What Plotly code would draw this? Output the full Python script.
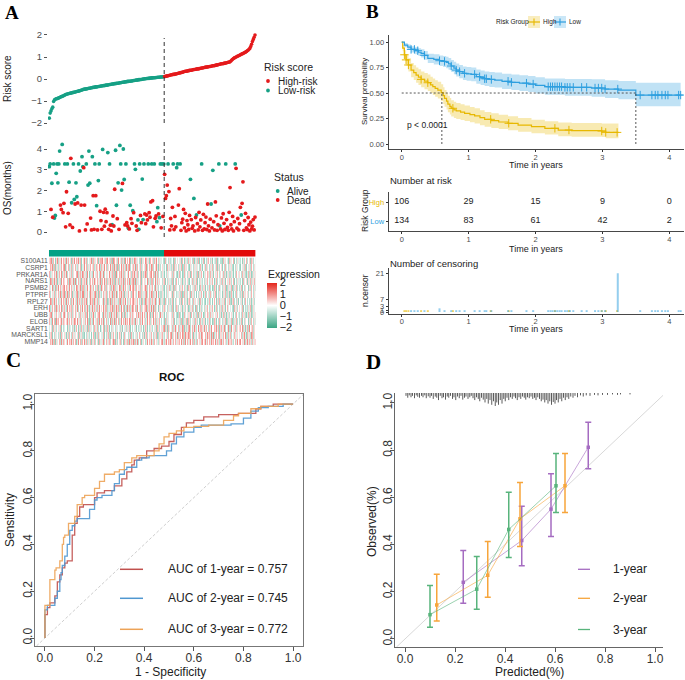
import numpy as np
import plotly.graph_objects as go

W, H = 685, 680
FONT = "Liberation Sans, Arial, sans-serif"
SERIF = "Liberation Serif, Times New Roman, serif"

# ------------------------------------------------------------------ A data
risk_low = [
    -1.78, -1.55, -1.45, -1.35, -1.28, -1.02,
    -0.95, -0.92, -0.90, -0.89, -0.88, -0.86, -0.84, -0.82, -0.80,
    -0.79, -0.77, -0.75, -0.73, -0.71, -0.69,
    -0.68, -0.67, -0.66, -0.65, -0.64, -0.63, -0.62, -0.61, -0.60, -0.59, -0.58, -0.57, -0.56, -0.55, -0.54, -0.52, -0.51, -0.50, -0.48,
    -0.47, -0.46, -0.46, -0.45, -0.44, -0.43, -0.42, -0.42, -0.41, -0.40, -0.39, -0.38, -0.38, -0.37, -0.36, -0.36, -0.35, -0.34, -0.34, -0.33,
    -0.32, -0.32, -0.31, -0.30, -0.30, -0.29, -0.28, -0.28, -0.27, -0.26, -0.25, -0.25, -0.24, -0.23, -0.23, -0.22, -0.21, -0.21, -0.20,
    -0.19, -0.19, -0.18, -0.17, -0.17, -0.16, -0.15, -0.15, -0.14, -0.13, -0.13, -0.12, -0.11, -0.11, -0.10, -0.10, -0.09, -0.09, -0.08,
    -0.07, -0.07, -0.06, -0.05, -0.05, -0.04, -0.03, -0.03, -0.02, -0.02, -0.01, 0.00, 0.00, 0.01, 0.01, 0.02, 0.02, 0.03, 0.03, 0.04,
    0.04, 0.05, 0.05, 0.06, 0.06, 0.06, 0.07, 0.07, 0.08, 0.08, 0.08, 0.09, 0.09, 0.09, 0.10, 0.10]
risk_high = [
    0.11, 0.12, 0.13, 0.14, 0.15, 0.16, 0.17, 0.18, 0.19, 0.20, 0.21, 0.21, 0.22, 0.23, 0.24, 0.25, 0.26, 0.27, 0.28, 0.29, 0.30, 0.31, 0.33,
    0.34, 0.35, 0.35, 0.36, 0.37, 0.38, 0.39, 0.40, 0.40, 0.41, 0.42, 0.43, 0.43, 0.44, 0.45, 0.46, 0.46, 0.47, 0.48,
    0.49, 0.50, 0.50, 0.51, 0.52, 0.53, 0.54, 0.54, 0.55, 0.56, 0.57, 0.57, 0.58, 0.59, 0.60, 0.60, 0.61, 0.62, 0.63,
    0.64, 0.65, 0.66, 0.67, 0.68, 0.69, 0.69, 0.70, 0.71, 0.72, 0.73, 0.74, 0.75, 0.76, 0.77, 0.78,
    0.82, 0.86, 0.90, 0.93, 0.96, 0.98, 1.00, 1.02, 1.04, 1.06, 1.08, 1.10, 1.12, 1.14, 1.16,
    1.18, 1.20, 1.22, 1.25, 1.28, 1.31, 1.35, 1.39, 1.48, 1.58, 1.70, 1.80, 1.90, 2.00]

os_time = [
    3.15, 3.28, 1.09, 2.35, 0.71, 3.28, 0.67, 0.80, 2.83, 3.28,
    2.37, 3.28, 3.90, 1.30, 1.09, 4.22, 0.93, 1.38, 3.28, 0.25,
    1.94, 3.28, 0.90, 2.40, 0.34, 3.55, 1.41, 0.22, 3.28, 1.57,
    1.35, 2.37, 1.70, 1.40, 3.28, 0.05, 2.94, 1.30, 3.63, 3.15,
    3.10, 1.30, 0.10, 3.28, 0.39, 2.26, 3.90, 2.35, 0.67, 0.10,
    3.63, 1.75, 0.13, 3.28, 1.75, 1.27, 0.10, 2.48, 3.28, 1.00,
    0.55, 0.13, 3.98, 0.95, 0.28, 1.10, 0.50, 0.93, 3.83, 0.13,
    3.28, 0.33, 0.05, 0.35, 0.77, 0.29, 2.06, 3.94, 1.29, 0.64,
    2.37, 0.13, 4.17, 3.28, 2.02, 2.34, 4.00, 2.53, 0.34, 3.28,
    0.45, 0.29, 0.18, 0.15, 1.29, 0.64, 0.42, 1.03, 0.93, 3.28,
    3.02, 0.29, 0.08, 0.58, 0.13, 3.28, 0.80, 0.45, 2.55, 0.60,
    3.28, 0.87, 0.40, 0.82, 0.58, 3.28, 0.93, 0.71, 1.45, 3.28,
    1.51, 0.25, 3.28, 0.66, 0.77, 0.50, 1.17, 0.87, 0.69, 3.28,
    0.20, 3.28, 0.75, 3.28,
    2.78, 1.62, 1.75, 2.26, 3.28, 1.95, 0.10, 0.65, 0.30, 1.19,
    3.28, 0.12, 0.75, 0.25, 3.10, 3.28, 1.30, 2.09, 3.28, 0.08,
    0.45, 0.62, 1.09, 0.20, 0.90, 0.05, 0.55, 0.35, 0.12, 0.80,
    2.54, 0.60, 0.18, 0.30, 1.62, 0.05, 0.70, 0.82, 0.40, 0.10,
    0.95, 0.25, 0.58, 3.28, 0.08, 0.85, 0.15, 0.45, 0.72, 0.12,
    1.35, 0.30, 0.05, 0.62, 1.35, 0.20, 2.97, 0.50, 0.10, 1.45,
    0.78, 0.08, 0.35, 3.28, 0.30, 0.15, 0.68, 0.05, 0.88, 0.42,
    0.12, 3.28, 0.60, 0.22, 0.08, 0.95, 2.14, 0.35, 0.15, 0.75,
    0.05, 0.50, 3.28, 3.07, 0.18, 0.65, 0.10, 0.40, 1.19, 0.82,
    1.38, 2.42, 0.08, 0.55, 0.90, 0.20, 0.12, 0.70, 0.35, 0.05,
    0.48, 0.15, 0.28, 0.60, 0.10, 0.72]
os_status = [  # 1 = dead, 0 = alive
    0, 0, 1, 0, 1, 0, 0, 0, 0, 0,
    0, 0, 0, 1, 1, 0, 1, 1, 0, 1,
    1, 0, 1, 0, 1, 1, 0, 1, 0, 0,
    1, 0, 0, 1, 0, 1, 0, 1, 0, 0,
    1, 1, 1, 0, 1, 0, 0, 0, 1, 1,
    0, 1, 1, 0, 1, 0, 1, 0, 0, 1,
    1, 1, 0, 1, 1, 1, 1, 1, 0, 1,
    0, 1, 1, 0, 1, 1, 1, 0, 0, 1,
    0, 1, 0, 0, 0, 1, 0, 0, 1, 0,
    1, 1, 0, 1, 0, 1, 1, 0, 1, 0,
    0, 1, 1, 0, 0, 0, 1, 1, 0, 0,
    0, 1, 1, 1, 1, 0, 1, 1, 1, 0,
    1, 1, 0, 1, 1, 0, 0, 1, 0, 0,
    1, 0, 1, 0,
    1, 1, 1, 1, 0, 1, 1, 1, 1, 1,
    0, 1, 1, 1, 0, 0, 1, 1, 0, 1,
    1, 1, 1, 1, 1, 1, 1, 1, 1, 1,
    0, 1, 1, 1, 0, 1, 1, 0, 1, 1,
    1, 1, 1, 0, 1, 1, 1, 1, 1, 1,
    1, 1, 1, 1, 0, 1, 0, 1, 1, 1,
    1, 1, 1, 0, 0, 1, 1, 1, 1, 1,
    1, 0, 1, 1, 1, 1, 1, 1, 1, 1,
    1, 1, 0, 1, 1, 1, 1, 1, 1, 0,
    1, 1, 1, 1, 1, 1, 1, 1, 1, 1,
    1, 1, 1, 1, 1, 1]

genes = ["S100A11", "CSRP1", "PRKAR1A", "NARS1", "PSMB2", "PTPRF", "RPL27",
         "ERH", "UBB", "ELOB", "SART1", "MARCKSL1", "MMP14"]
# expression levels, one digit per sample, centred on 4 (= 0), step 0.35
expr_step = 0.35
expr_codes = [
    "5637264157 6253746152 7364251637 4625736145 5736246357 2657346156 "
    "6374526734 5261736452 7453625174 3647152637 6534726153 4726351647 "
    "5263746253 3425163425 2534162435 4351624153 2613542613 3526142536 "
    "1425364251 4352613425 2163542316 5342614253 3624152436 2451635243",
    "4635726153 7253646371 5462736254 6372546135 3746257364 5627365472 "
    "6153746265 4736257361 6254736527 5367245163 7264536254 3657246375 "
    "6245736152 4536241635 3425163524 2536142635 4261534253 1534263514 "
    "3625142536 2453615243 5142636425 3526142534 2614352641 4352614253",
    "6273546372 5364725163 7245636254 4637256374 6352746153 2746356427 "
    "5637245364 7356246173 4625736254 6374526357 3562746152 5736245674 "
    "4627365243 2536142534 4152634251 3624152634 2535164253 4261536241 "
    "3546152635 1425364253 4362514352 2536142643 5142635241 3625142536",
    "3746257361 6352746254 4627365372 7254636153 5637245264 6372546357 "
    "2564736275 5736246153 6245637264 4637256372 7253646154 5364725263 "
    "6247365354 4253614253 3526142634 2435163524 5261436253 3614253624 "
    "2536142536 4153624351 2635142536 5243614253 3524163425 1536245362",
    "5364725163 2746356274 6537246352 4726357264 6253746375 3647256152 "
    "7354626374 5263746253 4736257364 6352746175 2645736254 5736246357 "
    "6427356243 3526142536 2435162534 4253614253 1635243526 3524163425 "
    "5142536241 2635142635 4253614253 3614253624 2536142534 4152634251",
    "6274536254 4637256372 5726346153 3647256374 7253646275 5364725163 "
    "2746356254 6357246372 4625736153 7364526374 5247366253 3657246375 "
    "6253746152 2536142534 4251634253 3526142635 2435163524 5142536241 "
    "3624152634 2536142536 4153624251 2635142634 3425163524 5243614253",
    "4736257364 6253746152 7364526374 5247365263 3657246375 6274536254 "
    "4637256172 5726346353 2647256374 7253646275 5364725163 2746356254 "
    "6357246372 3524163425 2536142534 4251634253 1526342635 3435163524 "
    "2142536241 4624152634 3536142536 2153624251 4635142634 2425163524",
    "7253646275 5364725163 2746356254 6357246372 4625736153 7364526374 "
    "5247366253 3657246375 6253746152 4736257364 6274536254 5637256372 "
    "3726346153 4251634253 3526142635 2435163524 5142536241 3624152634 "
    "2536142536 4153624251 2635142634 3425163524 5243614253 2536142534",
    "5637245364 7356246173 4625736254 6374526357 3562746152 5736245674 "
    "4627365243 6273546372 5364725163 7245636254 4637256374 6352746153 "
    "2746356427 3536142534 4152634251 2624152634 3535164253 4261536241 "
    "2546152635 3425364253 1362514352 4536142643 2142635241 3625142536",
    "6352746175 2645736254 5736246357 6427356243 5364725163 2746356274 "
    "6537246352 4726357264 6253746375 3647256152 7354626374 5263746253 "
    "4736257364 2435162534 4253614253 3526142536 1635243526 3524163425 "
    "5142536241 2635142635 4253614253 3614253624 2536142534 4152634251",
    "3425163524 2536142534 4152634251 3624152634 2535164253 4261536241 "
    "3546152635 1425364253 4362514352 2536142643 5142635241 3625142536 "
    "2435163524 5364725163 4736257364 6253746152 3657246375 5247366253 "
    "7364526374 4625736153 6357246372 2746356254 5364725163 6274536254",
    "2536142534 4251634253 1526342635 3435163524 2142536241 4624152634 "
    "3536142536 2153624251 4635142634 2425163524 3524163425 1536245362 "
    "4253614253 5637245264 6372546357 2564736275 5736246153 6245637264 "
    "4637256372 7253646154 5364725263 6247365354 3746257361 6352746254",
    "4635726153 5462736254 3746257364 6153746265 4736257361 5367245163 "
    "3657246375 6245736152 4536241635 5627365472 6372546135 4253746371 "
    "5264536254 6736257465 7253646375 5647356274 6375746263 7264536574 "
    "5736246375 6457365264 7364526375 5637246374 6274537265 7365246357",
]

# ------------------------------------------------------------------ B data
high_t = [0, 0.015, 0.04, 0.065, 0.1, 0.14, 0.18, 0.215, 0.25, 0.29,
          0.34, 0.39, 0.43, 0.465, 0.5, 0.54, 0.59, 0.62, 0.64, 0.67,
          0.69, 0.72, 0.74, 0.78, 0.815, 0.88, 0.94, 1.02, 1.09, 1.17,
          1.24, 1.34, 1.45, 1.59, 1.74, 1.94, 2.14, 2.34, 2.54, 2.99,
          3.05, 3.24]
high_s = [1.0, 0.94, 0.875, 0.825, 0.775, 0.725, 0.70, 0.676, 0.655, 0.634,
          0.617, 0.601, 0.58, 0.562, 0.545, 0.529, 0.503, 0.475, 0.448, 0.42,
          0.392, 0.37, 0.35, 0.335, 0.324, 0.312, 0.301, 0.288, 0.275, 0.258,
          0.242, 0.229, 0.216, 0.203, 0.186, 0.17, 0.154, 0.137, 0.131, 0.127,
          0.114, 0.114]
high_lo = [1.0, 0.91, 0.83, 0.77, 0.71, 0.655, 0.627, 0.601, 0.578, 0.556,
           0.538, 0.521, 0.5, 0.481, 0.464, 0.447, 0.421, 0.393, 0.366, 0.338,
           0.311, 0.29, 0.27, 0.256, 0.246, 0.235, 0.225, 0.213, 0.2, 0.185,
           0.17, 0.158, 0.146, 0.134, 0.119, 0.105, 0.092, 0.077, 0.072, 0.068,
           0.057, 0.057]
high_hi = [1.0, 0.97, 0.92, 0.88, 0.84, 0.795, 0.773, 0.751, 0.732, 0.712,
           0.696, 0.681, 0.66, 0.643, 0.626, 0.611, 0.585, 0.557, 0.53, 0.502,
           0.473, 0.45, 0.43, 0.414, 0.402, 0.39, 0.378, 0.364, 0.35, 0.332,
           0.315, 0.301, 0.287, 0.273, 0.255, 0.238, 0.224, 0.212, 0.205, 0.2,
           0.2, 0.2]
low_t = [0, 0.04, 0.09, 0.14, 0.2, 0.25, 0.29, 0.34, 0.39, 0.48,
         0.565, 0.62, 0.665, 0.7, 0.74, 0.78, 0.815, 0.86, 0.915, 0.97,
         1.04, 1.115, 1.18, 1.24, 1.31, 1.39, 1.5, 1.64, 1.76, 1.89,
         2.0, 2.14, 2.44, 2.84, 3.04, 3.24, 3.5, 4.17]
low_s = [1.0, 0.97, 0.95, 0.928, 0.915, 0.90, 0.889, 0.87, 0.84, 0.83,
         0.817, 0.81, 0.80, 0.785, 0.765, 0.745, 0.725, 0.71, 0.693, 0.688,
         0.683, 0.66, 0.65, 0.64, 0.633, 0.627, 0.615, 0.605, 0.597, 0.588,
         0.575, 0.562, 0.556, 0.549, 0.539, 0.529, 0.48, 0.48]
low_lo = [1.0, 0.95, 0.925, 0.898, 0.88, 0.862, 0.849, 0.827, 0.794, 0.78,
          0.765, 0.756, 0.744, 0.727, 0.705, 0.683, 0.661, 0.645, 0.627, 0.621,
          0.615, 0.59, 0.579, 0.568, 0.56, 0.553, 0.54, 0.529, 0.52, 0.51,
          0.496, 0.482, 0.474, 0.464, 0.452, 0.439, 0.37, 0.36]
low_hi = [1.0, 0.99, 0.975, 0.958, 0.95, 0.938, 0.929, 0.913, 0.886, 0.88,
          0.869, 0.864, 0.856, 0.843, 0.825, 0.807, 0.789, 0.775, 0.759, 0.755,
          0.751, 0.73, 0.721, 0.712, 0.706, 0.701, 0.69, 0.681, 0.674, 0.666,
          0.654, 0.642, 0.638, 0.634, 0.626, 0.619, 0.60, 0.60]
median_high, median_low = 0.6, 3.5
p_text = "p < 0.0001"

cens_low_t = [0.14, 0.19, 0.24, 0.34, 0.565, 0.64, 0.74, 0.815, 0.865, 0.94,
              1.09, 1.165, 1.24, 1.265, 1.34, 1.59, 1.64, 1.865, 1.965, 2.19,
              2.225, 2.255, 2.29, 2.325, 2.36, 2.39, 2.44, 2.475, 2.515, 2.565,
              2.69, 2.765, 2.89, 2.94, 2.99, 3.04, 3.23, 3.565, 3.74, 3.79,
              3.83, 3.89, 3.94, 3.98, 4.14, 4.17]
cens_low_n = [1, 1, 1, 1, 2, 1, 1, 1, 1, 1,
              1, 1, 1, 1, 1, 1, 1, 1, 1, 1,
              1, 1, 1, 1, 1, 1, 1, 1, 1, 1,
              1, 1, 1, 1, 1, 1, 21, 1, 1, 1,
              1, 1, 1, 1, 1, 1]
cens_high_t = [0.04, 0.065, 0.1, 0.29, 0.39, 0.765, 1.33, 1.6, 2.29, 2.5, 2.99, 3.05, 3.22]
cens_high_n = [1, 1, 1, 1, 1, 1, 1, 1, 1, 1, 1, 1, 1]

table_times = [0, 1, 2, 3, 4]
table_high = [106, 29, 15, 9, 0]
table_low = [134, 83, 61, 42, 2]

# ------------------------------------------------------------------ C data
roc1_fpr = [0, 0, 0.01, 0.02, 0.04, 0.05, 0.06, 0.07, 0.08, 0.09,
            0.11, 0.12, 0.13, 0.14, 0.155, 0.2, 0.21, 0.24, 0.28, 0.31,
            0.33, 0.35, 0.36, 0.38, 0.41, 0.44, 0.47, 0.5, 0.52, 0.55,
            0.57, 0.6, 0.64, 0.7, 0.78, 0.85, 0.87, 0.92, 0.97, 1.0]
roc1_tpr = [0, 0.10, 0.10, 0.13, 0.15, 0.18, 0.24, 0.27, 0.30, 0.32,
            0.33, 0.44, 0.49, 0.52, 0.56, 0.57, 0.60, 0.62, 0.63, 0.65,
            0.68, 0.71, 0.74, 0.76, 0.77, 0.80, 0.81, 0.82, 0.84, 0.87,
            0.90, 0.92, 0.93, 0.945, 0.955, 0.96, 0.98, 0.99, 1.0, 1.0]
roc2_fpr = [0, 0, 0.01, 0.02, 0.04, 0.05, 0.06, 0.065, 0.07, 0.08,
            0.09, 0.1, 0.11, 0.12, 0.13, 0.18, 0.2, 0.21, 0.23, 0.27,
            0.28, 0.3, 0.32, 0.33, 0.37, 0.39, 0.42, 0.49, 0.51, 0.53,
            0.56, 0.6, 0.63, 0.75, 0.8, 0.83, 0.86, 0.9, 0.96, 1.0]
roc2_tpr = [0, 0.08, 0.12, 0.14, 0.14, 0.17, 0.20, 0.25, 0.28, 0.31,
            0.35, 0.40, 0.46, 0.48, 0.50, 0.51, 0.55, 0.59, 0.60, 0.61,
            0.63, 0.66, 0.70, 0.72, 0.73, 0.76, 0.77, 0.78, 0.80, 0.83,
            0.86, 0.88, 0.90, 0.91, 0.915, 0.94, 0.97, 0.985, 0.99, 1.0]
roc3_fpr = [0, 0, 0.02, 0.025, 0.04, 0.045, 0.06, 0.07, 0.075, 0.08,
            0.095, 0.1, 0.12, 0.13, 0.15, 0.16, 0.2, 0.22, 0.24, 0.25,
            0.28, 0.3, 0.32, 0.35, 0.37, 0.44, 0.46, 0.48, 0.5, 0.53,
            0.56, 0.6, 0.66, 0.72, 0.76, 0.78, 0.83, 0.87, 0.94, 1.0]
roc3_tpr = [0, 0.14, 0.14, 0.25, 0.25, 0.29, 0.30, 0.33, 0.40, 0.43,
            0.44, 0.49, 0.49, 0.52, 0.57, 0.60, 0.61, 0.64, 0.67, 0.70,
            0.70, 0.71, 0.72, 0.75, 0.77, 0.78, 0.80, 0.83, 0.86, 0.875,
            0.885, 0.90, 0.905, 0.91, 0.93, 0.95, 0.96, 0.98, 0.99, 1.0]
roc_labels = ["1-year", "2-year", "3-year"]
roc_auc = [0.757, 0.745, 0.772]

# ------------------------------------------------------------------ D data
cal1_x = [0.233, 0.467, 0.584, 0.733]
cal1_y = [0.240, 0.417, 0.550, 0.812]
cal1_lo = [0.151, 0.310, 0.434, 0.721]
cal1_hi = [0.375, 0.562, 0.700, 0.918]
cal2_x = [0.127, 0.331, 0.460, 0.640]
cal2_y = [0.144, 0.270, 0.509, 0.649]
cal2_lo = [0.076, 0.177, 0.392, 0.536]
cal2_hi = [0.274, 0.413, 0.663, 0.786]
cal3_x = [0.100, 0.287, 0.415, 0.604]
cal3_y = [0.103, 0.211, 0.464, 0.649]
cal3_lo = [0.050, 0.126, 0.345, 0.536]
cal3_hi = [0.226, 0.349, 0.622, 0.786]
rug_x = [0.004, 0.011, 0.017, 0.024, 0.030, 0.038, 0.045, 0.051, 0.058, 0.066,
         0.072, 0.079, 0.085, 0.093, 0.100, 0.106, 0.113, 0.121, 0.127, 0.134,
         0.141, 0.148, 0.154, 0.162, 0.169, 0.175, 0.182, 0.190, 0.196, 0.203,
         0.210, 0.217, 0.224, 0.231, 0.238, 0.244, 0.252, 0.259, 0.265, 0.272,
         0.279, 0.286, 0.293, 0.299, 0.306, 0.313, 0.320, 0.327, 0.333, 0.340,
         0.347, 0.354, 0.361, 0.367, 0.374, 0.381, 0.388, 0.395, 0.401, 0.408,
         0.415, 0.422, 0.429, 0.436, 0.442, 0.449, 0.456, 0.463, 0.470, 0.477,
         0.483, 0.490, 0.497, 0.504, 0.511, 0.518, 0.524, 0.531, 0.538, 0.545,
         0.552, 0.559, 0.565, 0.572, 0.579, 0.586, 0.593, 0.600, 0.606, 0.613,
         0.620, 0.627, 0.634, 0.641, 0.648, 0.655, 0.663, 0.672, 0.680, 0.690,
         0.702, 0.713, 0.725, 0.740, 0.758, 0.772, 0.790, 0.810, 0.830, 0.850,
         0.862, 0.900]
rug_len = [0.012, 0.020, 0.010, 0.018, 0.012, 0.022, 0.010, 0.016, 0.020, 0.012,
           0.018, 0.010, 0.022, 0.014, 0.020, 0.012, 0.025, 0.015, 0.020, 0.030,
           0.012, 0.022, 0.018, 0.028, 0.015, 0.020, 0.012, 0.025, 0.018, 0.030,
           0.015, 0.022, 0.012, 0.028, 0.020, 0.015, 0.025, 0.018, 0.012, 0.022,
           0.030, 0.018, 0.025, 0.035, 0.020, 0.028, 0.040, 0.025, 0.045, 0.030,
           0.050, 0.035, 0.055, 0.040, 0.050, 0.030, 0.045, 0.025, 0.035, 0.020,
           0.030, 0.018, 0.025, 0.015, 0.022, 0.030, 0.018, 0.025, 0.015, 0.020,
           0.028, 0.018, 0.022, 0.015, 0.025, 0.020, 0.030, 0.018, 0.025, 0.035,
           0.028, 0.040, 0.030, 0.045, 0.035, 0.050, 0.038, 0.045, 0.030, 0.040,
           0.025, 0.035, 0.020, 0.030, 0.018, 0.025, 0.015, 0.020, 0.012, 0.018,
           0.010, 0.015, 0.010, 0.012, 0.008, 0.010, 0.008, 0.008, 0.006, 0.008,
           0.006, 0.006]
cal_labels = ["1-year", "2-year", "3-year"]

# ------------------------------------------------------------------ styling
TEAL, RED = "#16A085", "#E41A1C"
BAR_TEAL, BAR_RED = "#02A185", "#E20A0A"
ORANGE_KM, BLUE_KM = "#E7B800", "#2E9FDF"
ROC_COL = ["#C0504D", "#4F97D0", "#EDA357"]
CAL_COL = ["#A56CC1", "#F7A53B", "#58B47C"]


def xd(a, b):
    return [a / W, b / W]


def yd(top, bottom):
    return [1 - bottom / H, 1 - top / H]


def PX(x):
    return x / W


def PY(y):
    return 1 - y / H


annotations, shapes = [], []


def text(x, y, s, size, color="#222", xanchor="center", angle=0, family=FONT):
    annotations.append(dict(x=PX(x), y=PY(y), xref="paper", yref="paper", text=s,
                            showarrow=False, xanchor=xanchor, yanchor="middle",
                            textangle=angle, borderpad=0,
                            font=dict(size=size, color=color, family=family)))


def hline_px(x0, x1, y, color, width=1.3):
    shapes.append(dict(type="line", xref="paper", yref="paper", x0=PX(x0), x1=PX(x1),
                       y0=PY(y), y1=PY(y), line=dict(color=color, width=width)))


def dot_px(cx, cy, r, color):
    shapes.append(dict(type="circle", xref="paper", yref="paper", x0=PX(cx - r), x1=PX(cx + r),
                       y0=PY(cy + r), y1=PY(cy - r), fillcolor=color, line=dict(width=0)))


fig = go.Figure()

# ================================================================== Panel A
n_low, n_high = len(risk_low), len(risk_high)
n_all = n_low + n_high
idx_low = list(range(1, n_low + 1))
idx_high = list(range(n_low + 1, n_all + 1))
fig.add_trace(go.Scatter(x=idx_low, y=risk_low, mode="markers",
                         marker=dict(color=TEAL, size=3.6), xaxis="x", yaxis="y"))
fig.add_trace(go.Scatter(x=idx_high, y=risk_high, mode="markers",
                         marker=dict(color=RED, size=3.6), xaxis="x", yaxis="y"))

idx_os = list(range(1, len(os_time) + 1))
alive_x = [i for i, s in zip(idx_os, os_status) if s == 0]
alive_y = [t for t, s in zip(os_time, os_status) if s == 0]
dead_x = [i for i, s in zip(idx_os, os_status) if s == 1]
dead_y = [t for t, s in zip(os_time, os_status) if s == 1]
fig.add_trace(go.Scatter(x=alive_x, y=alive_y, mode="markers",
                         marker=dict(color=TEAL, size=3.8), xaxis="x2", yaxis="y2"))
fig.add_trace(go.Scatter(x=dead_x, y=dead_y, mode="markers",
                         marker=dict(color=RED, size=3.8), xaxis="x2", yaxis="y2"))

# annotation bar
fig.add_trace(go.Heatmap(z=[[0] * n_low + [1] * n_high], x=list(range(1, n_all + 1)), y=[0],
                         colorscale=[[0, BAR_TEAL], [0.5, BAR_TEAL], [0.5, BAR_RED], [1, BAR_RED]],
                         zmin=0, zmax=1, showscale=False, xaxis="x3", yaxis="y3"))
# expression heatmap
expr = []
for code in expr_codes:
    vals = [(int(c) - 4) * expr_step for c in code.replace(" ", "")]
    vals = (vals + [0.0] * n_all)[:n_all]
    expr.append(vals)
fig.add_trace(go.Heatmap(
    z=expr, x=list(range(1, n_all + 1)), y=list(range(len(genes))),
    colorscale=[[0, "#3AA583"], [0.5, "#FFFFFF"], [1, "#E4261C"]], zmin=-2, zmax=2,
    xaxis="x4", yaxis="y4",
    colorbar=dict(x=PX(267), xanchor="left", y=PY(305), yanchor="middle",
                  len=45 / H, lenmode="fraction", thickness=10, thicknessmode="pixels",
                  outlinewidth=0, tickvals=[-2, -1, 0, 1, 2], ticks="",
                  tickfont=dict(size=11, color="#222", family=FONT), xpad=0, ypad=0)))

# dashed cut lines
shapes.append(dict(type="line", xref="x", yref="paper", x0=n_low + 0.5, x1=n_low + 0.5,
                   y0=PY(123), y1=PY(38), line=dict(color="#333", width=1, dash="4px,3px")))
shapes.append(dict(type="line", xref="x2", yref="paper", x0=n_low + 0.5, x1=n_low + 0.5,
                   y0=PY(237), y1=PY(140), line=dict(color="#333", width=1, dash="4px,3px")))

text(4, 12, "<b>A</b>", 19, "#000", "left", family=SERIF)
text(7, 79, "Risk score", 10, "#222", angle=-90)
text(7, 188, "OS(months)", 10, "#222", angle=-90)
text(263, 67.5, "Risk score", 10.5, "#222", "left")
dot_px(268, 81, 1.9, RED)
dot_px(268, 90.5, 1.9, TEAL)
text(277, 81, "High-risk", 10, "#222", "left")
text(277, 90.5, "Low-risk", 10, "#222", "left")
text(273, 177, "Status", 10.5, "#222", "left")
dot_px(277.7, 191, 1.9, TEAL)
dot_px(277.7, 200, 1.9, RED)
text(286, 191, "Alive", 10, "#222", "left")
text(286, 200, "Dead", 10, "#222", "left")
text(267, 274, "Expression", 10.5, "#222", "left")

# ================================================================== Panel B
def step_at(ts, ss, t):
    i = int(np.searchsorted(np.array(ts), t, side="right")) - 1
    return ss[max(i, 0)]


for ts, lo, hi, col in [(high_t, high_lo, high_hi, "rgba(231,184,0,0.30)"),
                        (low_t, low_lo, low_hi, "rgba(46,159,223,0.30)")]:
    fig.add_trace(go.Scatter(x=ts, y=hi, mode="lines", line=dict(width=0, shape="hv"),
                             xaxis="x5", yaxis="y5"))
    fig.add_trace(go.Scatter(x=ts, y=lo, mode="lines", line=dict(width=0, shape="hv"),
                             fill="tonexty", fillcolor=col, xaxis="x5", yaxis="y5"))

for ts, ss, col in [(high_t, high_s, ORANGE_KM), (low_t, low_s, BLUE_KM)]:
    fig.add_trace(go.Scatter(x=ts, y=ss, mode="lines", line=dict(color=col, width=1.2, shape="hv"),
                             xaxis="x5", yaxis="y5"))
for ct, ts, ss, col in [(cens_high_t, high_t, high_s, ORANGE_KM), (cens_low_t, low_t, low_s, BLUE_KM)]:
    fig.add_trace(go.Scatter(x=ct, y=[step_at(ts, ss, t) for t in ct], mode="markers",
                             marker=dict(symbol="cross-thin", size=6, line=dict(color=col, width=1)),
                             xaxis="x5", yaxis="y5"))

dot_line = dict(color="#444", width=0.9, dash="2px,2px")
shapes.append(dict(type="line", xref="x5", yref="y5", x0=0, x1=median_low, y0=0.5, y1=0.5, line=dot_line))
shapes.append(dict(type="line", xref="x5", yref="y5", x0=median_high, x1=median_high, y0=0, y1=0.5, line=dot_line))
shapes.append(dict(type="line", xref="x5", yref="y5", x0=median_low, x1=median_low, y0=0, y1=0.5, line=dot_line))
annotations.append(dict(x=0.39, y=0.19, xref="x5", yref="y5", text=p_text, showarrow=False,
                        font=dict(size=8.5, color="#222", family=FONT)))

# risk table
fig.add_trace(go.Scatter(x=table_times + table_times, y=[2] * len(table_times) + [1] * len(table_times),
                         text=[str(v) for v in table_high + table_low], mode="text",
                         textfont=dict(size=9, color="#222", family=FONT), xaxis="x6", yaxis="y6"))
# censoring
fig.add_trace(go.Bar(x=cens_high_t, y=cens_high_n, width=0.03, marker=dict(color=ORANGE_KM, line=dict(width=0)),
                     opacity=0.6, xaxis="x7", yaxis="y7"))
fig.add_trace(go.Bar(x=cens_low_t, y=cens_low_n, width=0.03, marker=dict(color=BLUE_KM, line=dict(width=0)),
                     opacity=0.5, xaxis="x7", yaxis="y7"))

text(365, 11, "<b>B</b>", 19, "#000", "left", family=SERIF)
text(495, 22, "Risk Group", 6.5, "#222", "left")
for x0, col, fill, lab in [(528, ORANGE_KM, "rgba(231,184,0,0.25)", "High"),
                           (554, BLUE_KM, "rgba(46,159,223,0.25)", "Low")]:
    shapes.append(dict(type="rect", xref="paper", yref="paper", x0=PX(x0), x1=PX(x0 + 12),
                       y0=PY(28), y1=PY(16), fillcolor=fill, line=dict(width=0)))
    hline_px(x0, x0 + 12, 22, col, 1.2)
    shapes.append(dict(type="line", xref="paper", yref="paper", x0=PX(x0 + 6), x1=PX(x0 + 6),
                       y0=PY(25.5), y1=PY(18.5), line=dict(color=col, width=1.1)))
    text(x0 + 14, 22, lab, 6.5, "#222", "left")
text(365, 92, "Survival probability", 8, "#222", angle=-90)
text(536, 164.5, "Time in years", 9, "#222")
text(389, 181, "Number at risk", 9.5, "#222", "left")
text(365, 211, "Risk Group", 8.5, "#222", angle=-90)
text(536, 248.5, "Time in years", 9, "#222")
text(389, 263, "Number of censoring", 9.5, "#222", "left")
text(365, 291, "n.censor", 8.5, "#222", angle=-90)
text(536, 329, "Time in years", 9, "#222")

# ================================================================== Panel C
for fpr, tpr, col in [(roc1_fpr, roc1_tpr, ROC_COL[0]), (roc2_fpr, roc2_tpr, ROC_COL[1]),
                      (roc3_fpr, roc3_tpr, ROC_COL[2])]:
    fig.add_trace(go.Scatter(x=fpr, y=tpr, mode="lines", line=dict(color=col, width=1.3, shape="vh"),
                             opacity=0.9, xaxis="x8", yaxis="y8"))
shapes.append(dict(type="line", xref="x8", yref="y8", x0=-0.034, y0=-0.034, x1=1.04, y1=1.04,
                   line=dict(color="#C8C8C8", width=0.9, dash="3px,2px"), layer="below"))
text(5, 360, "<b>C</b>", 21, "#000", "left", family=SERIF)
text(172, 377, "<b>ROC</b>", 11.5, "#111")
text(10, 520, "Sensitivity", 12, "#222", angle=-90)
text(170, 672, "1 - Specificity", 12, "#222")
for k, ly in enumerate([569.3, 598.3, 629.3]):
    hline_px(120, 143, ly, ROC_COL[k], 1.5)
    text(167, ly, f"AUC of {roc_labels[k]} = {roc_auc[k]:.3f}", 12, "#222", "left")

# ================================================================== Panel D
D_XR, D_YR = [-0.04, 1.032], [-0.034, 1.042]
rug_top = D_YR[1]
rx, ry = [], []
for x, l in zip(rug_x, rug_len):
    rx += [x, x, None]
    ry += [rug_top, rug_top - l, None]
fig.add_trace(go.Scatter(x=rx, y=ry, mode="lines", line=dict(color="#333", width=0.8),
                         xaxis="x9", yaxis="y9"))
shapes.append(dict(type="line", xref="x9", yref="y9", x0=-0.034, y0=-0.034, x1=1.032, y1=1.032,
                   line=dict(color="#D4D4D4", width=0.9), layer="below"))
for xs, ys, lo, hi, col in [(cal1_x, cal1_y, cal1_lo, cal1_hi, CAL_COL[0]),
                            (cal2_x, cal2_y, cal2_lo, cal2_hi, CAL_COL[1]),
                            (cal3_x, cal3_y, cal3_lo, cal3_hi, CAL_COL[2])]:
    fig.add_trace(go.Scatter(x=xs, y=ys, mode="lines", line=dict(color=col, width=1),
                             opacity=0.6, xaxis="x9", yaxis="y9"))
    fig.add_trace(go.Scatter(
        x=xs, y=ys, mode="markers", marker=dict(symbol="square", size=3.5, color=col),
        error_y=dict(type="data", symmetric=False,
                     array=[h - y for h, y in zip(hi, ys)],
                     arrayminus=[y - l for l, y in zip(lo, ys)],
                     color=col, thickness=1.5, width=3),
        xaxis="x9", yaxis="y9"))
text(365, 362, "<b>D</b>", 21, "#000", "left", family=SERIF)
text(372, 522, "Observed(%)", 12, "#222", angle=-90)
text(529.5, 672, "Predicted(%)", 12, "#222")
for k, ly in enumerate([569.3, 598.3, 629.5]):
    hline_px(578, 590, ly, CAL_COL[k], 1.3)
    text(612, ly, cal_labels[k], 12, "#222", "left")

# ================================================================== axes
def tick_axis(**kw):
    base = dict(showgrid=False, zeroline=False, ticks="outside")
    base.update(kw)
    return base


A_XR = [-0.51, 242.32]
KM_XR = [-0.19, 4.22]
km_x = dict(range=KM_XR, tickvals=[0, 1, 2, 3, 4], ticklen=2.5, tickcolor="#333",
            tickfont=dict(size=7.5, color="#4d4d4d"), showline=True, linecolor="#333",
            linewidth=0.9, domain=xd(389, 684))
km_y = dict(ticklen=2.5, tickcolor="#333", tickfont=dict(size=7.5, color="#4d4d4d"),
            showline=True, linecolor="#333", linewidth=0.9)
fr = [0, 0.2, 0.4, 0.6, 0.8, 1.0]
fr_t = ["0.0", "0.2", "0.4", "0.6", "0.8", "1.0"]

axes = dict(
    xaxis=dict(domain=xd(48, 257), range=A_XR, visible=False, anchor="y"),
    yaxis=tick_axis(domain=yd(30, 128), range=[-2.227, 2.227], anchor="x", tickvals=[-2, -1, 0, 1, 2],
                    ticklen=3, tickcolor="#555", tickfont=dict(size=9.5, color="#4d4d4d"), showline=False),
    xaxis2=dict(domain=xd(48, 257), range=A_XR, visible=False, anchor="y2"),
    yaxis2=tick_axis(domain=yd(138, 238), range=[-0.289, 4.53], anchor="x2", tickvals=[0, 1, 2, 3, 4],
                     ticklen=3, tickcolor="#555", tickfont=dict(size=9.5, color="#4d4d4d"), showline=False),
    xaxis3=dict(domain=xd(48.9, 255.4), range=[0.5, n_all + 0.5], visible=False, anchor="y3"),
    yaxis3=dict(domain=yd(250, 256.5), range=[-0.5, 0.5], visible=False, anchor="x3"),
    xaxis4=dict(domain=xd(48.9, 255.4), range=[0.5, n_all + 0.5], visible=False, anchor="y4"),
    yaxis4=dict(domain=yd(257.5, 345), range=[len(genes) - 0.5, -0.5], anchor="x4",
                tickvals=list(range(len(genes))), ticktext=genes, ticks="", showgrid=False,
                zeroline=False, showline=False, tickfont=dict(size=6.8, color="#555")),
    xaxis5=tick_axis(anchor="y5", ticklabelstandoff=-1, **km_x),
    yaxis5=tick_axis(domain=yd(35, 149), range=[-0.049, 1.069], anchor="x5",
                     tickvals=[0, 0.25, 0.5, 0.75, 1], ticktext=["0.00", "0.25", "0.50", "0.75", "1.00"], **km_y),
    xaxis6=tick_axis(anchor="y6", ticklabelstandoff=-1, **km_x),
    yaxis6=tick_axis(domain=yd(192, 231), range=[0.474, 2.526], anchor="x6", tickvals=[1, 2],
                     ticktext=[f'<span style="color:{BLUE_KM}">Low</span>',
                               f'<span style="color:{ORANGE_KM}">High</span>'], **km_y),
    xaxis7=tick_axis(anchor="y7", ticklabelstandoff=-2, **km_x),
    yaxis7=tick_axis(domain=yd(268, 314), range=[-1.08, 23.85], anchor="x7", tickvals=[0, 1, 3, 7, 21], **km_y),
    xaxis8=tick_axis(domain=xd(35, 303), range=[-0.04, 1.04], anchor="y8", tickvals=fr, ticktext=fr_t,
                     ticklen=4, tickcolor="#555", tickfont=dict(size=12, color="#333"), ticklabelstandoff=-3,
                     showline=True, mirror=True, linecolor="#777", linewidth=1),
    yaxis8=tick_axis(domain=yd(394, 646), range=[-0.034, 1.043], anchor="x8", tickvals=fr, ticktext=fr_t,
                     tickangle=-90, ticklen=4, tickcolor="#555", tickfont=dict(size=12, color="#333"),
                     ticklabelstandoff=-7, showline=True, mirror=True, linecolor="#777", linewidth=1),
    xaxis9=tick_axis(domain=xd(395, 663), range=D_XR, anchor="y9", tickvals=fr, ticktext=fr_t,
                     ticklen=4, tickcolor="#555", tickfont=dict(size=12, color="#333"), ticklabelstandoff=-3,
                     showline=True, linecolor="#666", linewidth=1),
    yaxis9=tick_axis(domain=yd(393, 647), range=D_YR, anchor="x9", tickvals=fr, ticktext=fr_t,
                     tickangle=-90, ticklen=4, tickcolor="#555", tickfont=dict(size=12, color="#333"),
                     ticklabelstandoff=-7, showline=True, linecolor="#666", linewidth=1),
)

fig.update_layout(
    width=W, height=H, margin=dict(l=0, r=0, t=0, b=0), template="none",
    paper_bgcolor="white", plot_bgcolor="white", showlegend=False, barmode="overlay",
    font=dict(family=FONT, color="#222"), annotations=annotations, shapes=shapes, **axes)

fig.write_html("out.html", config={"displayModeBar": False, "staticPlot": True},
               post_script="document.body.style.margin='0';document.body.style.overflow='hidden';")
